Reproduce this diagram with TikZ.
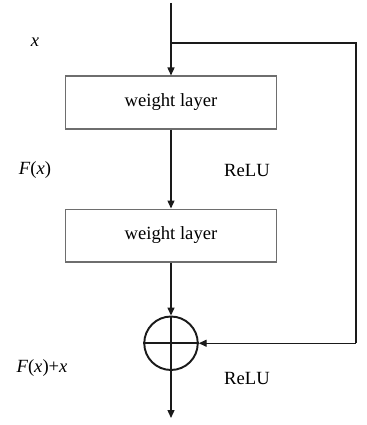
\documentclass[tikz,border=0pt]{standalone}
\usepackage{fontspec}
\setmainfont{Liberation Serif}
\usetikzlibrary{arrows.meta,positioning}
\definecolor{Ink}{HTML}{1A1A1A}
\definecolor{BoxLine}{HTML}{6E6E6E}
\tikzset{
  layer/.style={
    draw=BoxLine, line width=0.6pt, fill=white,
    minimum width=4.22cm, minimum height=1.06cm, inner sep=0pt,
    font=\fontsize{10.6}{12}\selectfont
  },
  sumnode/.style={
    circle, draw=Ink, line width=1.1pt, minimum size=1.07cm, inner sep=0pt
  },
  tag/.style={font=\fontsize{10.6}{12}\selectfont, inner sep=0pt},
  flow/.style={-{Triangle[length=1.6mm,width=1.4mm]}, line width=0.8pt, draw=Ink},
  wire/.style={line width=0.8pt, draw=Ink}
}
\begin{document}
\begin{tikzpicture}[x=0.02cm,y=0.02cm]
        \useasboundingbox (0,0) rectangle (366,425);
        \coordinate (in) at (171,422);
        \coordinate (split) at (171,382);
        \node[layer] (w1) at (171,322.5) {weight layer};
        \node[layer,below=1.58cm of w1] (w2) {weight layer};
        \node[sumnode,below=1.06cm of w2] (sum) {};
        \coordinate (out) at (171,7);
        \coordinate (skiptop) at (356,382);
        \coordinate (skipbot) at (skiptop |- sum.east);
        % plus sign inside the sum
        \draw[line width=1.1pt,draw=Ink] (sum.north) -- (sum.south) (sum.west) -- (sum.east);
        % labels
        \node[tag] (lx) at (35,383) {\textit{x}};
        \node[tag] (lf) at (35,255) {\textit{F}(\textit{x})};
        \node[tag] (r1) at (247,254) {ReLU};
        \node[tag] (lfx) at (42,57) {\textit{F}(\textit{x})+\textit{x}};
        \node[tag] (r2) at (247,47) {ReLU};
        % connectors
        \draw[flow] (in) -- (w1.north);
        \draw[flow] (w1.south) -- (w2.north);
        \draw[flow] (w2.south) -- (sum.north);
        \draw[flow] (sum.south) -- (out);
        \draw[wire] (split) -- (skiptop) -- (skipbot);
        \draw[flow] (skipbot) -- (sum.east);
      \end{tikzpicture}
\end{document}
